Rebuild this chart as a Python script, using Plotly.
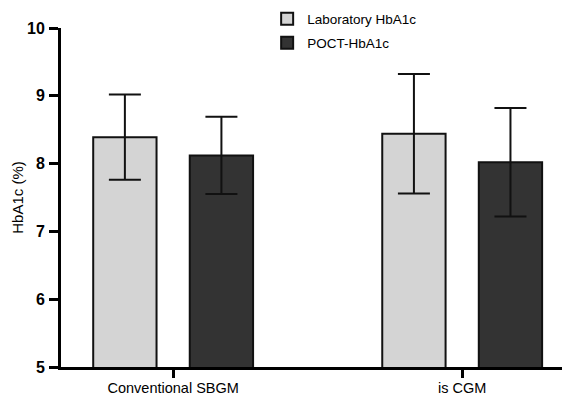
import plotly.graph_objects as go

categories = ["Conventional SBGM", "is CGM"]
lab_mean = [8.39, 8.44]
lab_sd = [0.63, 0.88]
poct_mean = [8.12, 8.02]
poct_sd = [0.57, 0.80]
series_names = ["Laboratory HbA1c", "POCT-HbA1c"]
y_ticks = [5, 6, 7, 8, 9, 10]

FONT = "Liberation Sans, Arial, sans-serif"

fig = go.Figure()
fig.add_trace(go.Bar(
    x=categories, y=lab_mean, name=series_names[0], legend="legend", showlegend=True,
    marker=dict(color="#d4d4d4", line=dict(color="#111111", width=2)),
    error_y=dict(type="data", array=lab_sd, visible=True, color="#111111", thickness=2, width=16),
))
fig.add_trace(go.Bar(
    x=categories, y=poct_mean, name=series_names[1], legend="legend2", showlegend=True,
    marker=dict(color="#333333", line=dict(color="#111111", width=2)),
    error_y=dict(type="data", array=poct_sd, visible=True, color="#111111", thickness=2, width=16),
))

# page has an 8px body margin, so the figure is drawn 8px smaller and offset
W, H = 562, 388
H_PLOT = 359.0
leg_common = dict(xanchor="left", yanchor="middle", font=dict(size=13.5, family=FONT),
                  bgcolor="rgba(0,0,0,0)")

fig.update_layout(
    width=W, height=H, showlegend=True,
    margin=dict(l=53, r=0, t=0, b=29, autoexpand=False),
    paper_bgcolor="white", plot_bgcolor="white",
    barmode="group", bargap=0.332, bargroupgap=0.344,
    font=dict(family=FONT, color="black"),
    legend=dict(x=0.405, y=(H_PLOT - 11) / H_PLOT, **leg_common),
    legend2=dict(x=0.405, y=(H_PLOT - 35) / H_PLOT, **leg_common),
    xaxis=dict(range=[-0.388, 1.373], showline=True, linecolor="black", linewidth=3,
               ticks="outside", ticklen=8, tickwidth=3, tickcolor="black", automargin=False,
               ticklabelstandoff=-2,
               tickfont=dict(size=14.5, family=FONT), showgrid=False, zeroline=False),
    yaxis=dict(range=[5, 10], tickvals=y_ticks, showline=True, linecolor="black", linewidth=3,
               domain=[0, (H_PLOT - 20) / H_PLOT], automargin=False,
               ticks="outside", ticklen=9, tickwidth=3, tickcolor="black", ticklabelstandoff=1,
               tickfont=dict(size=16, family=FONT, weight="bold"),
               title=dict(text="HbA1c (%)", font=dict(size=15, family=FONT), standoff=0),
               showgrid=False, zeroline=False),
)

fig.write_html("out.html")
